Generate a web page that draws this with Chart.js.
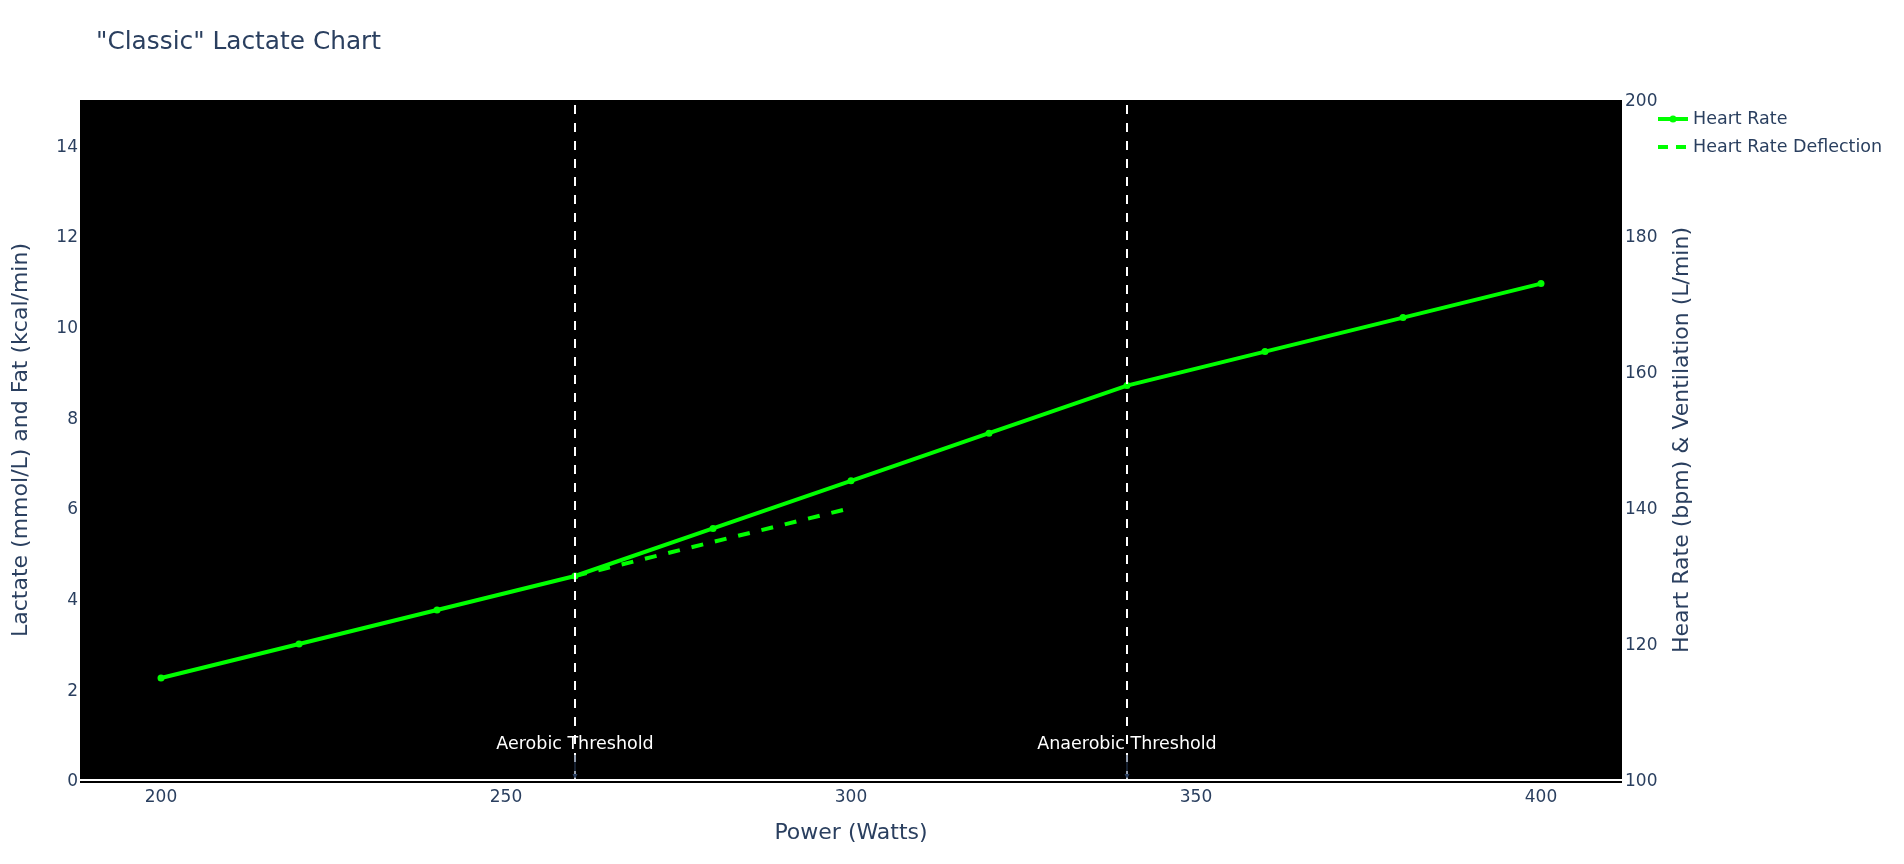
<!DOCTYPE html>
<html lang="en">
<head>
    <meta charset="UTF-8">
    <title>"Classic" Lactate Chart</title>
    <script src="https://cdn.jsdelivr.net/npm/chart.js"></script>
    <style>
        body { margin: 0; background: #fff; }
        canvas { display: block; }
    </style>
</head>
<body>
    <canvas id="lactateChart" width="1904" height="864"></canvas>

    <script>
        // values
        const power = [200, 220, 240, 260, 280, 300, 320, 340, 360, 380, 400];
        const heartRate = [115, 120, 125, 130, 137, 144, 151, 158, 163, 168, 173];
        const deflectionPower = [260, 280, 300];
        const deflectionHr = [130, 135, 140];
        const thresholds = [260, 340];
        const thresholdLabels = ['Aerobic Threshold', 'Anaerobic Threshold'];
        const powerTicks = [200, 250, 300, 350, 400];
        const leftTicks = [0, 2, 4, 6, 8, 10, 12, 14];
        const rightTicks = [100, 120, 140, 160, 180, 200];

        const FONT = "'DejaVu Sans', Verdana, sans-serif";
        const TEXT = '#2a3f5f';
        const GREEN = '#00ff00';

        const hrPoints = power.map((p, i) => ({ x: p, y: heartRate[i] }));
        const deflPoints = deflectionPower.map((p, i) => ({ x: p, y: deflectionHr[i] }));

        // vertical threshold lines as 2-point datasets on the left axis
        const thresholdSets = thresholds.map(t => ({
            label: 'threshold ' + t,
            data: [{ x: t, y: 0 }, { x: t, y: 15 }],
            yAxisID: 'y',
            borderColor: '#ffffff',
            borderWidth: 2,
            borderDash: [9, 9],
            pointRadius: 0,
            order: 0
        }));

        const plotDecor = {
            id: 'plotDecor',
            beforeDatasetsDraw(chart) {
                const { ctx, chartArea: a, scales } = chart;
                const y0 = scales.y.getPixelForValue(0);
                ctx.save();
                ctx.fillStyle = '#000';
                ctx.fillRect(a.left, a.top, a.right - a.left, y0 - 1 - a.top);
                ctx.fillStyle = '#fff';
                ctx.fillRect(a.left, y0 - 1, a.right - a.left, 2);
                ctx.fillStyle = '#000';
                ctx.fillRect(a.left, y0 + 1, a.right - a.left, 2);
                ctx.restore();
            },
            afterDatasetsDraw(chart) {
                const { ctx, scales } = chart;
                const y0 = scales.y.getPixelForValue(0);
                ctx.save();
                thresholds.forEach((t, i) => {
                    const x = scales.x.getPixelForValue(t);
                    const ly = y0 - 36;
                    // annotation arrow
                    ctx.strokeStyle = TEXT;
                    ctx.lineWidth = 1;
                    ctx.beginPath();
                    ctx.moveTo(x, ly + 11);
                    ctx.lineTo(x, y0 - 4);
                    ctx.stroke();
                    ctx.fillStyle = TEXT;
                    ctx.beginPath();
                    ctx.moveTo(x, y0 - 1);
                    ctx.lineTo(x - 2.5, y0 - 6);
                    ctx.lineTo(x + 2.5, y0 - 6);
                    ctx.closePath();
                    ctx.fill();
                    ctx.fillStyle = '#fff';
                    ctx.font = '17.5px ' + FONT;
                    ctx.textAlign = 'center';
                    ctx.textBaseline = 'middle';
                    ctx.fillText(thresholdLabels[i], x, ly);
                });
                ctx.restore();
            },
            afterDraw(chart) {
                const { ctx, chartArea: a } = chart;
                ctx.save();
                // title
                ctx.fillStyle = TEXT;
                ctx.font = '24.8px ' + FONT;
                ctx.textAlign = 'left';
                ctx.textBaseline = 'middle';
                ctx.fillText('"Classic" Lactate Chart', 96, 43);

                // right axis title, reads bottom to top
                ctx.save();
                ctx.translate(1682, (a.top + a.bottom) / 2);
                ctx.rotate(-Math.PI / 2);
                ctx.font = '22px ' + FONT;
                ctx.textAlign = 'center';
                ctx.fillText('Heart Rate (bpm) & Ventilation (L/min)', 0, 0);
                ctx.restore();

                // legend
                const items = [
                    { text: 'Heart Rate', dash: [], marker: true },
                    { text: 'Heart Rate Deflection', dash: [10, 8], marker: false }
                ];
                items.forEach((it, i) => {
                    const y = 119 + i * 28;
                    ctx.strokeStyle = GREEN;
                    ctx.lineWidth = 4;
                    ctx.setLineDash(it.dash);
                    ctx.beginPath();
                    ctx.moveTo(1658, y);
                    ctx.lineTo(1688, y);
                    ctx.stroke();
                    ctx.setLineDash([]);
                    if (it.marker) {
                        ctx.fillStyle = GREEN;
                        ctx.beginPath();
                        ctx.arc(1673, y, 3.5, 0, Math.PI * 2);
                        ctx.fill();
                    }
                    ctx.fillStyle = TEXT;
                    ctx.font = '17.5px ' + FONT;
                    ctx.textAlign = 'left';
                    ctx.textBaseline = 'middle';
                    ctx.fillText(it.text, 1693, y);
                });
                ctx.restore();
            }
        };

        new Chart(document.getElementById('lactateChart'), {
            type: 'line',
            data: {
                datasets: [
                    ...thresholdSets,
                    {
                        label: 'Heart Rate',
                        data: hrPoints,
                        yAxisID: 'y1',
                        borderColor: GREEN,
                        backgroundColor: GREEN,
                        borderWidth: 4,
                        pointRadius: 3.5,
                        pointBorderWidth: 0,
                        pointBackgroundColor: GREEN,
                        tension: 0,
                        order: 1
                    },
                    {
                        label: 'Heart Rate Deflection',
                        data: deflPoints,
                        yAxisID: 'y1',
                        borderColor: GREEN,
                        borderWidth: 4,
                        borderDash: [12, 12],
                        pointRadius: 0,
                        tension: 0,
                        order: 2
                    }
                ]
            },
            options: {
                responsive: false,
                animation: false,
                events: [],
                layout: {
                    padding: { left: 0, top: 100, right: 209, bottom: 0 }
                },
                plugins: {
                    legend: { display: false },
                    title: { display: false },
                    tooltip: { enabled: false }
                },
                scales: {
                    x: {
                        type: 'linear',
                        position: 'bottom',
                        min: 188.26,
                        max: 411.74,
                        afterBuildTicks: s => { s.ticks = powerTicks.map(v => ({ value: v })); },
                        afterFit: s => { s.height = 84; },
                        grid: { display: false, drawTicks: false },
                        border: { display: false },
                        ticks: { padding: 7, color: TEXT, font: { family: FONT, size: 17 } },
                        title: {
                            display: true,
                            text: 'Power (Watts)',
                            color: TEXT,
                            font: { family: FONT, size: 22 },
                            padding: { top: 0, bottom: 18 }
                        }
                    },
                    y: {
                        type: 'linear',
                        position: 'left',
                        min: 0,
                        max: 15,
                        afterBuildTicks: s => { s.ticks = leftTicks.map(v => ({ value: v })); },
                        afterFit: s => { s.width = 80; },
                        grid: { display: false, drawTicks: false },
                        border: { display: false },
                        ticks: { padding: 2, labelOffset: 2, color: TEXT, font: { family: FONT, size: 17 } },
                        title: {
                            display: true,
                            text: 'Lactate (mmol/L) and Fat (kcal/min)',
                            color: TEXT,
                            font: { family: FONT, size: 22 },
                            padding: { top: 8, bottom: 0 }
                        }
                    },
                    y1: {
                        type: 'linear',
                        position: 'right',
                        min: 100,
                        max: 200,
                        afterBuildTicks: s => { s.ticks = rightTicks.map(v => ({ value: v })); },
                        afterFit: s => { s.width = 73; },
                        grid: { display: false, drawTicks: false },
                        border: { display: false },
                        ticks: { padding: 3, labelOffset: 2, color: TEXT, font: { family: FONT, size: 17 } }
                    }
                }
            },
            plugins: [plotDecor]
        });
    </script>
</body>
</html>
